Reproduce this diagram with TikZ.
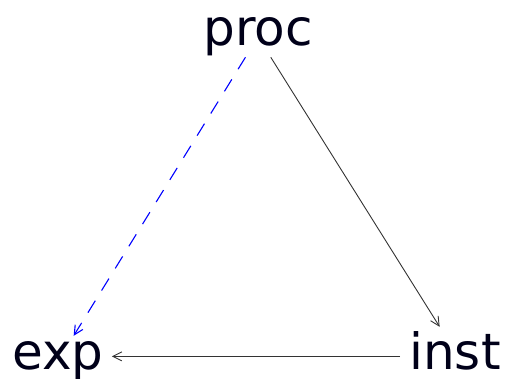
\documentclass[tikz,border=0pt]{standalone}
\usepackage{fontspec}
\setmainfont{DejaVu Sans}
\usetikzlibrary{arrows.meta}
\begin{document}
\begin{tikzpicture}[x=1pt,y=1pt,
  lbl/.style={font=\fontsize{50}{60}\selectfont, text=black!90!blue, anchor=base},
  conn/.style={line width=0.9pt, draw=black!80, -{Straight Barb[length=9pt,width=9pt]}},
  dconn/.style={line width=1.1pt, draw=blue, dash pattern=on 14pt off 12pt, -{Straight Barb[length=9pt,width=9pt]}}]
\useasboundingbox (0,0) rectangle (508,379);
\node[lbl, inner sep=1pt] (proc) at (258,333.3) {proc};
\node[lbl, inner xsep=8pt, inner ysep=6pt] (exp) at (58,9) {exp};
\node[lbl, inner xsep=9pt, inner ysep=5pt] (inst) at (455,9) {inst};
\draw[conn] (proc) -- (inst);
\draw[conn] ([yshift=-5pt]inst.west) -- ([yshift=-5pt]inst.west -| exp.east);
\draw[dconn] (proc) -- (exp);
\end{tikzpicture}
\end{document}
